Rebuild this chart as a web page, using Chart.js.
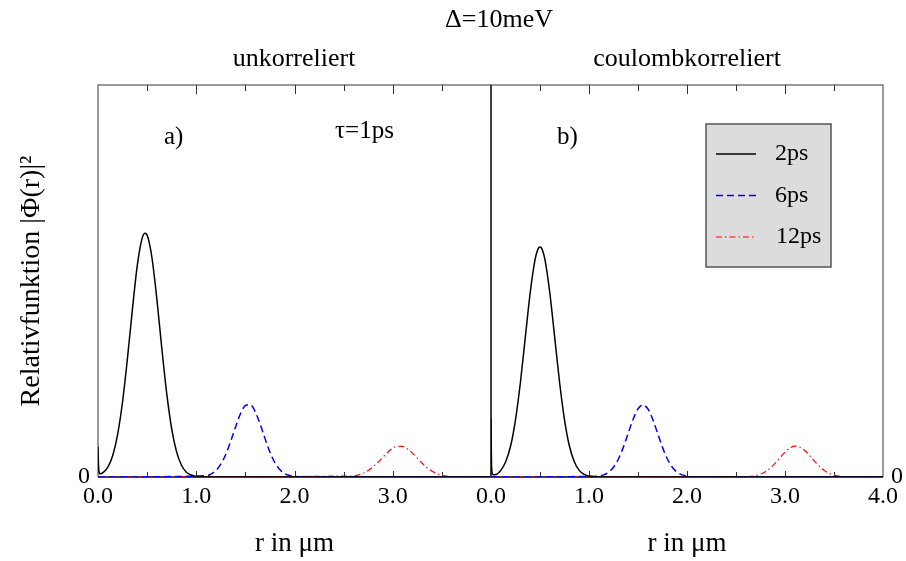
<!DOCTYPE html>
<html lang="de">
<head>
<meta charset="UTF-8">
<title>Relativfunktion</title>
<script src="https://cdn.jsdelivr.net/npm/chart.js"></script>
<style>
  body { margin: 0; background: #fff; }
  #wrap { position: relative; width: 906px; height: 561px; }
  #wrap canvas { position: absolute; left: 0; top: 0; }
</style>
</head>
<body>
<div id="wrap">
  <canvas id="chartA" width="906" height="561"></canvas>
  <canvas id="chartB" width="906" height="561"></canvas>
</div>
<script>
// r in µm (panel height = 1)
const seriesLabels = ['2ps', '6ps', '12ps'];
const xTicksA = [0, 1, 2, 3];
const xTicksB = [0, 1, 2, 3, 4];

const rBlack = [0, 0.005, 0.02, 0.05, 0.10, 0.15, 0.20, 0.25, 0.30, 0.35, 0.40, 0.45, 0.48, 0.50, 0.52,
                0.55, 0.60, 0.65, 0.70, 0.75, 0.80, 0.85, 0.90, 0.95, 1.00, 1.05, 1.10, 4.0];
const blackA = [0.077, 0.03, 0.008, 0.011, 0.025, 0.055, 0.109, 0.192, 0.303, 0.427, 0.540, 0.610, 0.622, 0.617, 0.600,
                0.558, 0.452, 0.327, 0.212, 0.123, 0.064, 0.030, 0.012, 0.005, 0.0015, 0.0004, 0, 0];
const blackB = [0.15, 0.03, 0.006, 0.0065, 0.017, 0.039, 0.079, 0.146, 0.241, 0.356, 0.470, 0.555, 0.582, 0.587, 0.582,
                0.555, 0.470, 0.356, 0.241, 0.146, 0.079, 0.039, 0.017, 0.0065, 0.0023, 0.0007, 0, 0];

const rBlue = [0, 1.10, 1.15, 1.20, 1.25, 1.30, 1.35, 1.40, 1.45, 1.50, 1.55, 1.60, 1.65,
               1.70, 1.75, 1.80, 1.85, 1.90, 1.95, 2.00, 2.05, 2.10, 4.0];
const blueA = [0, 0.0031, 0.0075, 0.0165, 0.0326, 0.0574, 0.0905, 0.1278, 0.1613, 0.1823, 0.1843, 0.1668, 0.1351,
               0.0979, 0.0634, 0.0368, 0.0191, 0.0089, 0.0037, 0.0014, 0.0005, 0, 0];
const blueB = [0, 0.0020, 0.0053, 0.0121, 0.0249, 0.0459, 0.0756, 0.1116, 0.1473, 0.1740, 0.1840, 0.1740, 0.1473,
               0.1116, 0.0756, 0.0459, 0.0249, 0.0121, 0.0053, 0.0020, 0.0007, 0, 0];

const rRed = [0, 2.60, 2.65, 2.70, 2.75, 2.80, 2.85, 2.90, 2.95, 3.00, 3.05, 3.10, 3.15,
              3.20, 3.25, 3.30, 3.35, 3.40, 3.45, 3.50, 3.55, 3.60, 3.70, 4.0];
const redA = [0, 0.0026, 0.0052, 0.0096, 0.0164, 0.0257, 0.0375, 0.0506, 0.0633, 0.0733, 0.0785, 0.0779, 0.0716,
              0.0609, 0.0480, 0.0350, 0.0236, 0.0148, 0.0086, 0.0046, 0.0023, 0.0010, 0, 0];
const redB = [0, 0.0007, 0.0016, 0.0036, 0.0073, 0.0135, 0.0229, 0.0352, 0.0494, 0.0633, 0.0740, 0.0790, 0.0767,
              0.0681, 0.0551, 0.0407, 0.0275, 0.0169, 0.0095, 0.0049, 0.0023, 0.0010, 0, 0];

const serif = '"Liberation Serif", "Times New Roman", serif';
Chart.defaults.font.family = serif;
Chart.defaults.color = '#000';

const pts = (rs, ys) => rs.map((r, i) => ({ x: r, y: ys[i] }));

function makeDatasets(black, blue, red) {
    return [
        { label: seriesLabels[0], data: pts(rBlack, black), borderColor: '#000', borderWidth: 1.5, borderDash: [] },
        { label: seriesLabels[1], data: pts(rBlue, blue), borderColor: '#0000ff', borderWidth: 1.5, borderDash: [7, 4] },
        { label: seriesLabels[2], data: pts(rRed, red), borderColor: '#ff0000', borderWidth: 1.2, borderDash: [6, 3, 1.5, 3] }
    ];
}

// box, inward ticks, divider
const framePlugin = {
    id: 'frame',
    beforeDatasetsDraw(chart, args, opts) {
        const { ctx, chartArea: a } = chart;
        const x = chart.scales.x;
        ctx.save();
        ctx.lineWidth = 1.5;
        ctx.strokeStyle = '#7a7a7a';
        ctx.beginPath();
        ctx.moveTo(a.left, a.bottom);
        ctx.lineTo(a.left, a.top);
        ctx.lineTo(a.right, a.top);
        ctx.lineTo(a.right, a.bottom);
        ctx.stroke();

        ctx.strokeStyle = '#000';
        if (opts.divider) {
            ctx.lineWidth = 1;
            ctx.beginPath();
            ctx.moveTo(a.left, a.top);
            ctx.lineTo(a.left, a.bottom);
            ctx.stroke();
        }
        ctx.lineWidth = 1.5;
        ctx.beginPath();
        ctx.moveTo(a.left, a.bottom);
        ctx.lineTo(a.right, a.bottom);
        ctx.stroke();

        ctx.lineWidth = 1;
        ctx.strokeStyle = '#333';
        for (let v = 0.5; v < 4; v += 0.5) {
            const px = Math.round(x.getPixelForValue(v)) + 0.5;
            const major = Number.isInteger(v);
            ctx.beginPath();
            ctx.moveTo(px, a.top);
            ctx.lineTo(px, a.top + (major ? 9 : 6));
            ctx.moveTo(px, a.bottom);
            ctx.lineTo(px, a.bottom - (major ? 6 : 5));
            ctx.stroke();
        }
        ctx.restore();
    }
};

// titles, panel notes and the grey legend box
const textPlugin = {
    id: 'panelText',
    afterDraw(chart, args, opts) {
        const ctx = chart.ctx;
        ctx.save();
        ctx.fillStyle = '#000';
        ctx.textBaseline = 'alphabetic';
        (opts.items || []).forEach(t => {
            ctx.font = t.size + 'px ' + serif;
            ctx.textAlign = t.align || 'left';
            ctx.fillText(t.text, t.x, t.y);
        });

        const lg = opts.legend;
        if (lg) {
            ctx.fillStyle = '#dcdcdc';
            ctx.fillRect(lg.x, lg.y, lg.w, lg.h);
            ctx.strokeStyle = '#555';
            ctx.lineWidth = 1.5;
            ctx.strokeRect(lg.x, lg.y, lg.w, lg.h);
            ctx.font = '24px ' + serif;
            ctx.textAlign = 'left';
            ctx.textBaseline = 'middle';
            chart.data.datasets.forEach((ds, i) => {
                const y = lg.y + 30 + i * 41.5;
                ctx.strokeStyle = ds.borderColor;
                ctx.lineWidth = ds.borderWidth;
                ctx.setLineDash(ds.borderDash);
                ctx.beginPath();
                ctx.moveTo(lg.x + 10, y);
                ctx.lineTo(lg.x + 50, y);
                ctx.stroke();
                ctx.setLineDash([]);
                ctx.fillStyle = '#000';
                ctx.fillText(ds.label, lg.x + 69 + (i === 2 ? 1 : 0), y);
            });
        }
        ctx.restore();
    }
};

function xScale(ticks, withTitle) {
    return {
        type: 'linear', min: 0, max: 4,
        afterBuildTicks: s => { s.ticks = ticks.map(v => ({ value: v })); },
        ticks: { callback: v => Number(v).toFixed(1), font: { size: 24 }, padding: 5, maxRotation: 0, autoSkip: false },
        grid: { display: false, drawTicks: false },
        border: { display: false },
        title: { display: withTitle, text: 'r in μm', font: { size: 27 }, padding: { top: 0, bottom: 1 } },
        afterFit: s => { s.height = 84; }
    };
}

function yScale(position, width, withTitle) {
    return {
        position: position, min: 0, max: 1,
        afterBuildTicks: s => { s.ticks = [{ value: 0 }]; },
        ticks: { callback: () => '0', font: { size: 24 }, padding: 8 },
        grid: { display: false, drawTicks: false },
        border: { display: false },
        title: { display: withTitle, text: 'Relativfunktion |Φ(r)|²', font: { size: 28 }, padding: { top: 15, bottom: 0 } },
        afterFit: s => { s.width = width; }
    };
}

const common = {
    responsive: false,
    animation: false,
    elements: { point: { radius: 0 }, line: { cubicInterpolationMode: 'monotone', fill: false } }
};

new Chart(document.getElementById('chartA'), {
    type: 'line',
    data: { datasets: makeDatasets(blackA, blueA, redA) },
    options: {
        ...common,
        layout: { padding: { left: 0, right: 415, top: 85, bottom: 0 } },
        scales: { x: xScale(xTicksA, true), y: yScale('left', 98, true) },
        plugins: {
            legend: { display: false },
            tooltip: { enabled: false },
            frame: { divider: false },
            panelText: {
                items: [
                    { text: 'Δ=10meV', x: 499, y: 27, size: 26, align: 'center' },
                    { text: 'unkorreliert', x: 294, y: 66, size: 26, align: 'center' },
                    { text: 'a)', x: 164, y: 144, size: 25 },
                    { text: 'τ=1ps', x: 335, y: 138, size: 25 }
                ]
            }
        }
    },
    plugins: [framePlugin, textPlugin]
});

new Chart(document.getElementById('chartB'), {
    type: 'line',
    data: { datasets: makeDatasets(blackB, blueB, redB) },
    options: {
        ...common,
        layout: { padding: { left: 491, right: 0, top: 85, bottom: 0 } },
        scales: { x: xScale(xTicksB, true), y: yScale('right', 23, false) },
        plugins: {
            legend: { display: false },
            tooltip: { enabled: false },
            frame: { divider: true },
            panelText: {
                items: [
                    { text: 'coulombkorreliert', x: 687, y: 66, size: 26, align: 'center' },
                    { text: 'b)', x: 557, y: 144, size: 25 }
                ],
                legend: { x: 706, y: 124, w: 125, h: 143 }
            }
        }
    },
    plugins: [framePlugin, textPlugin]
});
</script>
</body>
</html>
